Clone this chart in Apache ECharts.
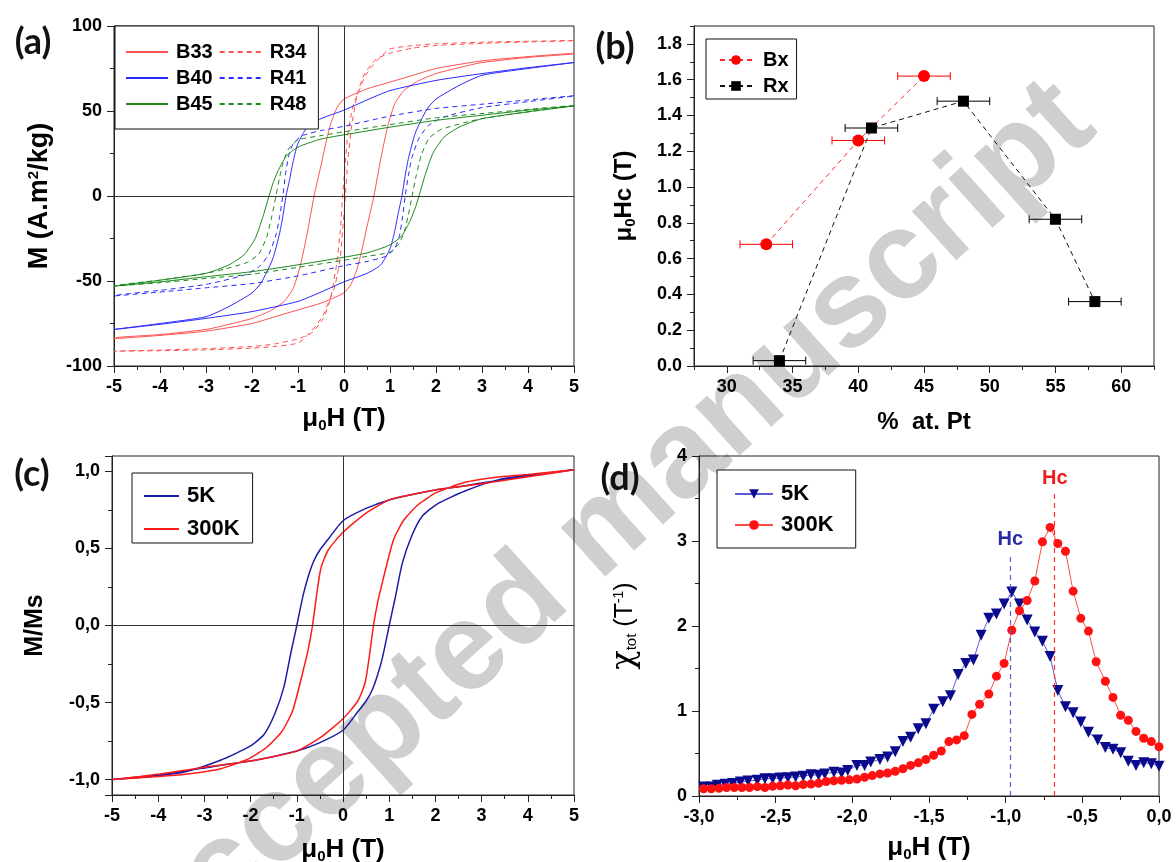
<!DOCTYPE html>
<html><head><meta charset="utf-8">
<script src="https://cdn.jsdelivr.net/npm/echarts@6/dist/echarts.min.js"></script>
<style>html,body{margin:0;padding:0;background:#fff}#c{width:1176px;height:862px}</style>
</head><body><div id="c"></div>
<script>
// ---------- Panel (a): hysteresis loops, M (A.m2/kg) vs mu0H (T) ----------
const b33Loop = [[5,84],[4,82],[3,79.5],[2,75],[1.5,71],[1,67],[0.5,63],[0,57],[-0.15,52],[-0.27,44],[-0.37,34],[-0.5,18],[-0.65,0],[-0.8,-22],[-0.95,-41],[-1.1,-54],[-1.3,-62],[-1.6,-67.5],[-2,-72],[-2.5,-75.5],[-3,-78.5],[-4,-81.5],[-5,-83.5],
  [-5,-84],[-4,-82],[-3,-79.5],[-2,-75],[-1.5,-71],[-1,-67],[-0.5,-63],[0,-57],[0.15,-52],[0.27,-44],[0.37,-34],[0.5,-18],[0.65,0],[0.8,22],[0.95,41],[1.1,54],[1.3,62],[1.6,67.5],[2,72],[2.5,75.5],[3,78.5],[4,81.5],[5,83.5]];
const r34Loop = [[5,91.5],[4,91],[3,90.5],[2,89.5],[1.5,88.5],[1,86.5],[0.8,82],[0.6,76],[0.45,70],[0.33,62],[0.22,55],[0.15,47],[0.08,36],[0.03,20],[-0.03,0],[-0.08,-20],[-0.16,-40],[-0.29,-60],[-0.45,-72],[-0.7,-80.5],[-1,-84],[-1.5,-87],[-2,-88.5],[-3,-89.8],[-4,-90.6],[-5,-91.3],
  [-5,-91.5],[-4,-91],[-3,-90.5],[-2,-89.5],[-1.5,-88.5],[-1,-86.5],[-0.8,-82],[-0.6,-76],[-0.45,-70],[-0.33,-62],[-0.22,-55],[-0.15,-47],[-0.08,-36],[-0.03,-20],[0.03,0],[0.08,20],[0.16,40],[0.29,60],[0.45,72],[0.7,80.5],[1,84],[1.5,87],[2,88.5],[3,89.8],[4,90.6],[5,91.3]];
const b40Loop = [[5,78.5],[4,75.5],[3,72],[2,68],[1,62],[0.5,56.5],[0,50.5],[-0.5,45.5],[-0.8,40.5],[-1,31],[-1.1,21],[-1.18,10],[-1.26,0],[-1.33,-12],[-1.4,-22],[-1.55,-37],[-1.8,-51],[-2,-57],[-2.5,-65],[-3,-71],[-4,-75],[-5,-78.5],
  [-5,-78.5],[-4,-75.5],[-3,-72],[-2,-68],[-1,-62],[-0.5,-56.5],[0,-50.5],[0.5,-45.5],[0.8,-40.5],[1,-31],[1.1,-21],[1.18,-10],[1.26,0],[1.33,12],[1.4,22],[1.55,37],[1.8,51],[2,57],[2.5,65],[3,71],[4,75],[5,78.5]];
const r41Loop = [[5,59],[4,56.5],[3,54],[2,51.5],[1,47],[0,41],[-0.5,38.5],[-0.9,35.5],[-1.1,31],[-1.2,24],[-1.27,13],[-1.33,0],[-1.4,-12],[-1.47,-22],[-1.63,-34],[-1.84,-41.5],[-2.17,-46.5],[-3,-52],[-4,-55.5],[-5,-58.8],
  [-5,-59],[-4,-56.5],[-3,-54],[-2,-51.5],[-1,-47],[0,-41],[0.5,-38.5],[0.9,-35.5],[1.1,-31],[1.2,-24],[1.27,-13],[1.33,0],[1.4,12],[1.47,22],[1.63,34],[1.84,41.5],[2.17,46.5],[3,52],[4,55.5],[5,58.8]];
const b45Loop = [[5,53],[4,50.5],[3,47.5],[2,44.5],[1,40.5],[0,36],[-0.5,33.5],[-0.94,29.5],[-1.1,27],[-1.27,23],[-1.43,15],[-1.55,7],[-1.63,0],[-1.76,-12],[-1.93,-25],[-2.17,-34.5],[-2.5,-40.5],[-3,-45.5],[-4,-49.5],[-5,-53],
  [-5,-53],[-4,-50.5],[-3,-47.5],[-2,-44.5],[-1,-40.5],[0,-36],[0.5,-33.5],[0.94,-29.5],[1.1,-27],[1.27,-23],[1.43,-15],[1.55,-7],[1.63,0],[1.76,12],[1.93,25],[2.17,34.5],[2.5,40.5],[3,45.5],[4,49.5],[5,53]];
const r48Loop = [[5,53.3],[4,51],[3,48.5],[2,46],[1,42],[0,37.8],[-0.5,35.5],[-1,33],[-1.2,28],[-1.32,20],[-1.4,11],[-1.48,0],[-1.57,-12],[-1.68,-24],[-1.85,-34],[-2.1,-39],[-2.6,-43],[-3,-45.5],[-4,-49.5],[-5,-53],
  [-5,-53.3],[-4,-51],[-3,-48.5],[-2,-46],[-1,-42],[0,-37.8],[0.5,-35.5],[1,-33],[1.2,-28],[1.32,-20],[1.4,-11],[1.48,0],[1.57,12],[1.68,24],[1.85,34],[2.1,39],[2.6,43],[3,45.5],[4,49.5],[5,53]];

// ---------- Panel (b): coercivity vs % at. Pt ----------
const bxX = [33, 40, 45];
const bxY = [0.68, 1.26, 1.62];
const bxErr = [2, 2, 2];
const rxX = [34, 41, 48, 55, 58];
const rxY = [0.03, 1.33, 1.48, 0.82, 0.36];
const rxErr = [2, 2, 2, 2, 2];

// ---------- Panel (c): normalized loops M/Ms ----------
const c5KLoop = [[5,1.01],[4,0.97],[3,0.925],[2.5,0.9],[2,0.88],[1.5,0.85],[1,0.815],[0.5,0.76],[0,0.68],[-0.32,0.56],[-0.5,0.49],[-0.63,0.42],[-0.75,0.32],[-0.86,0.2],[-1.0,0],[-1.13,-0.18],[-1.28,-0.4],[-1.48,-0.576],[-1.71,-0.707],[-2.02,-0.785],[-2.64,-0.873],[-3.41,-0.95],[-4,-0.975],[-5,-1.0],
  [-5,-1.0],[-4,-0.97],[-3,-0.925],[-2.5,-0.9],[-2,-0.88],[-1.5,-0.85],[-1,-0.815],[-0.5,-0.76],[0,-0.68],[0.32,-0.56],[0.5,-0.49],[0.63,-0.42],[0.75,-0.32],[0.86,-0.2],[1.0,0],[1.13,0.18],[1.28,0.4],[1.48,0.576],[1.71,0.707],[2.02,0.785],[2.64,0.873],[3.41,0.95],[4,0.975],[5,1.01]];
const c300KLoop = [[5,1.01],[4,0.965],[3,0.92],[2.5,0.9],[2,0.88],[1.5,0.85],[1,0.815],[0.5,0.73],[0,0.605],[-0.32,0.49],[-0.48,0.37],[-0.57,0.2],[-0.66,0],[-0.75,-0.15],[-0.86,-0.29],[-1.09,-0.554],[-1.32,-0.686],[-1.63,-0.785],[-2.02,-0.862],[-2.64,-0.929],[-3.41,-0.965],[-4,-0.98],[-5,-1.0],
  [-5,-1.0],[-4,-0.965],[-3,-0.92],[-2.5,-0.9],[-2,-0.88],[-1.5,-0.85],[-1,-0.815],[-0.5,-0.73],[0,-0.605],[0.32,-0.49],[0.48,-0.37],[0.57,-0.2],[0.66,0],[0.75,0.15],[0.86,0.29],[1.09,0.554],[1.32,0.686],[1.63,0.785],[2.02,0.862],[2.64,0.929],[3.41,0.965],[4,0.98],[5,1.01]];

// ---------- Panel (d): susceptibility chi_tot (T^-1) ----------
const d5KH = [-2.97,-2.92,-2.88,-2.83,-2.78,-2.73,-2.68,-2.62,-2.57,-2.52,-2.47,-2.42,-2.37,-2.32,-2.27,-2.22,-2.18,-2.12,-2.07,-2.03,-1.97,-1.92,-1.88,-1.82,-1.77,-1.72,-1.67,-1.62,-1.57,-1.52,-1.47,-1.41,-1.36,-1.31,-1.26,-1.21,-1.16,-1.11,-1.06,-1.01,-0.96,-0.91,-0.86,-0.81,-0.76,-0.71,-0.66,-0.61,-0.56,-0.51,-0.46,-0.40,-0.35,-0.30,-0.25,-0.20,-0.15,-0.10,-0.05,0.00];
const d5KChi = [0.106,0.106,0.126,0.138,0.146,0.165,0.177,0.185,0.204,0.204,0.212,0.216,0.224,0.232,0.25,0.243,0.26,0.28,0.27,0.30,0.36,0.36,0.40,0.43,0.46,0.52,0.64,0.69,0.79,0.85,1.02,1.11,1.18,1.43,1.56,1.60,1.89,2.09,2.14,2.26,2.40,2.26,2.07,1.93,1.82,1.64,1.24,1.05,0.98,0.87,0.75,0.66,0.57,0.55,0.51,0.41,0.36,0.39,0.38,0.35];
const d300KH = [-2.97,-2.92,-2.87,-2.82,-2.77,-2.72,-2.67,-2.62,-2.57,-2.52,-2.47,-2.42,-2.37,-2.32,-2.27,-2.22,-2.17,-2.12,-2.07,-2.02,-1.97,-1.92,-1.87,-1.82,-1.77,-1.72,-1.67,-1.62,-1.57,-1.52,-1.47,-1.42,-1.37,-1.32,-1.27,-1.22,-1.17,-1.11,-1.06,-1.01,-0.96,-0.91,-0.86,-0.81,-0.76,-0.71,-0.66,-0.61,-0.56,-0.51,-0.46,-0.41,-0.35,-0.30,-0.25,-0.20,-0.15,-0.10,-0.05,0.00];
const d300KChi = [0.085,0.085,0.09,0.10,0.10,0.10,0.10,0.11,0.10,0.115,0.12,0.13,0.12,0.135,0.14,0.15,0.17,0.18,0.185,0.19,0.20,0.22,0.24,0.26,0.27,0.29,0.32,0.36,0.39,0.43,0.48,0.53,0.64,0.66,0.71,0.96,1.08,1.20,1.41,1.56,1.95,2.18,2.30,2.53,2.99,3.16,2.97,2.88,2.41,2.09,1.94,1.58,1.35,1.16,0.95,0.89,0.76,0.68,0.64,0.58];
const hc5K = [-0.97, 2.85];     // H position of the Hc marker, top of its dashed line
const hc300K = [-0.68, 3.6];

// ---------- helpers ----------
const FONT = 'Liberation Sans';
const AX = '#222';
const zip = (xs, ys) => xs.map((x, i) => [x, ys[i]]);
const zip3 = (xs, ys, es) => xs.map((x, i) => [x, ys[i], es[i]]);
const comma = v => v.toFixed(1).replace('.', ',');

function axis(o) {
  const base = {
    type: 'value', nameLocation: 'middle', nameMoveOverlap: false,
    axisLine: {show: true, onZero: false, lineStyle: {color: AX, width: 1}},
    axisTick: {show: true, inside: false, length: 7, lineStyle: {color: AX, width: 1}},
    minorTick: {show: true, splitNumber: 2, length: 4, lineStyle: {color: AX, width: 1}},
    splitLine: {show: false}, minorSplitLine: {show: false},
    axisLabel: {margin: 12, fontFamily: FONT, fontWeight: 'bold', fontSize: 18, color: '#000'},
    nameTextStyle: {fontFamily: FONT, fontWeight: 'bold', fontSize: 26, color: '#000',
      rich: {s: {fontSize: 15, fontWeight: 'bold', padding: [13, 0, 0, 0]},
             p: {fontSize: 15, fontWeight: 'bold', padding: [0, 0, 13, 0]}}}
  };
  const r = Object.assign({}, base, o);
  if (o.axisLabel) r.axisLabel = Object.assign({}, base.axisLabel, o.axisLabel);
  if (o.axisTick) r.axisTick = Object.assign({}, base.axisTick, o.axisTick);
  if (o.minorTick) r.minorTick = Object.assign({}, base.minorTick, o.minorTick);
  if (o.axisLine) r.axisLine = Object.assign({}, base.axisLine, o.axisLine);
  if (o.nameTextStyle) r.nameTextStyle = Object.assign({}, base.nameTextStyle, o.nameTextStyle);
  return r;
}
function gridBox(left, top, width, height) {
  return {left, top, width, height, show: true, borderColor: AX, borderWidth: 1,
          backgroundColor: 'transparent', containLabel: false, outerBoundsMode: 'none'};
}
function errRender(params, api) {
  const x = api.value(0), y = api.value(1), e = api.value(2);
  const p1 = api.coord([x - e, y]), p2 = api.coord([x + e, y]);
  const c = api.visual('color'), h = 4;
  const st = {stroke: c, lineWidth: 1};
  return {type: 'group', children: [
    {type: 'line', shape: {x1: p1[0], y1: p1[1], x2: p2[0], y2: p2[1]}, style: st},
    {type: 'line', shape: {x1: p1[0], y1: p1[1] - h, x2: p1[0], y2: p1[1] + h}, style: st},
    {type: 'line', shape: {x1: p2[0], y1: p2[1] - h, x2: p2[0], y2: p2[1] + h}, style: st}
  ]};
}
const zeroLines = {silent: true, symbol: ['none', 'none'], label: {show: false},
  lineStyle: {color: '#333', width: 1, type: 'solid'}, data: [{xAxis: 0}, {yAxis: 0}]};
function loopSeries(name, data, color, dashed, xi, extra) {
  return Object.assign({name, type: 'line', xAxisIndex: xi, yAxisIndex: xi, data,
    symbol: 'none', showSymbol: false, smooth: 0.2, clip: true,
    lineStyle: {color, width: 1, type: dashed ? [5, 4] : 'solid'}, itemStyle: {color}}, extra || {});
}
function legendBox(o) {
  return Object.assign({
    borderColor: '#111', borderWidth: 1, borderRadius: 0, backgroundColor: '#fff',
    selectedMode: false, inactiveColor: '#000',
    textStyle: {fontFamily: FONT, fontWeight: 'bold', fontSize: 20, color: '#000', lineHeight: 20, padding: [0, 0, 0, 3]}
  }, o);
}
const letter = (t, x, y) => ({type: 'text', x, y, z: 10, silent: true,
  style: {text: t, fill: '#111', font: 'bold 36px Lato', textAlign: 'center', textVerticalAlign: 'middle', align: 'center', verticalAlign: 'middle'}});

const option = {
  animation: false,
  backgroundColor: '#fff',
  grid: [
    gridBox(114, 26, 460, 340),
    gridBox(694, 26, 460, 340),
    gridBox(112, 456, 462, 339),
    gridBox(699, 456, 460, 340)
  ],
  xAxis: [
    axis({gridIndex: 0, min: -5, max: 5, interval: 1, name: 'μ{s|0}H (T)', nameGap: 39}),
    axis({gridIndex: 1, min: 27.5, max: 62.5, splitNumber: 7, minorTick: {show: false},
          axisLabel: {showMinLabel: false, showMaxLabel: false}, name: '%  at. Pt', nameGap: 44,
          nameTextStyle: {fontSize: 24}}),
    axis({gridIndex: 1, min: 27.5, max: 62.5, interval: 2.5, position: 'bottom', axisLine: {show: false},
          axisLabel: {show: false}, axisTick: {length: 4}, minorTick: {show: false}}),
    axis({gridIndex: 2, min: -5, max: 5, interval: 1, name: 'μ{s|0}H (T)', nameGap: 41}),
    axis({gridIndex: 3, min: -3, max: 0, interval: 0.5, axisLabel: {formatter: comma}, name: 'μ{s|0}H (T)', nameGap: 38})
  ],
  yAxis: [
    axis({gridIndex: 0, min: -100, max: 100, interval: 50, name: 'M (A.m{p|2}/kg)', nameRotate: 90, nameGap: 60,
          nameTextStyle: {fontSize: 27}}),
    axis({gridIndex: 1, min: 0, max: 1.9, interval: 0.2, minorTick: {show: false},
          axisLabel: {showMaxLabel: false, formatter: v => v.toFixed(1)}, name: 'μ{s|0}Hc (T)', nameRotate: 90, nameGap: 56,
          nameTextStyle: {fontSize: 24}}),
    axis({gridIndex: 1, min: 0, max: 1.9, interval: 0.1, position: 'left', axisLine: {show: false},
          axisLabel: {show: false}, axisTick: {length: 4}, minorTick: {show: false}}),
    axis({gridIndex: 2, min: -1.1, max: 1.1, splitNumber: 4,
          axisLabel: {showMinLabel: false, showMaxLabel: false, formatter: comma}, name: 'M/Ms', nameRotate: 90, nameGap: 64,
          nameTextStyle: {fontSize: 25}}),
    axis({gridIndex: 3, min: 0, max: 4, interval: 1, name: '{c|χ}{t|tot} (T{u|-1})', nameRotate: 90, nameGap: 58,
          nameTextStyle: {fontWeight: 'normal', fontSize: 25, fontFamily: FONT,
            rich: {c: {fontSize: 32, fontFamily: 'DejaVu Serif'}, t: {fontSize: 15, fontFamily: FONT, padding: [13, 0, 0, 0]},
                   u: {fontSize: 14, fontFamily: FONT, padding: [0, 0, 12, 0]}}}})
  ],
  legend: [
    legendBox({data: ['B33', 'R34', 'B40', 'R41', 'B45', 'R48'], orient: 'horizontal', left: 115, top: 26, width: 206,
      itemWidth: 42, itemHeight: 10, itemGap: 6, padding: [16, 12, 15, 10], itemStyle: {opacity: 0}}),
    legendBox({data: ['Bx', 'Rx'], orient: 'vertical', left: 706, top: 39, itemWidth: 32, itemHeight: 12, itemGap: 6,
      padding: [11, 8, 3, 13], textStyle: {fontFamily: FONT, fontWeight: 'bold', fontSize: 20, color: '#000', lineHeight: 16, padding: [0, 0, 0, 6]}}),
    legendBox({data: ['5K', '300K'], orient: 'vertical', left: 132, top: 473, itemWidth: 35, itemHeight: 10, itemGap: 11,
      padding: [12, 13, 3, 11], itemStyle: {opacity: 0},
      textStyle: {fontFamily: FONT, fontWeight: 'bold', fontSize: 22, color: '#000', lineHeight: 20, padding: [0, 0, 0, 3]}}),
    legendBox({data: ['5K ', '300K '], orient: 'vertical', left: 717, top: 470, itemWidth: 38, itemHeight: 12, itemGap: 9,
      padding: [13, 16, 12, 17],
      textStyle: {fontFamily: FONT, fontWeight: 'bold', fontSize: 22, color: '#000', lineHeight: 20, padding: [0, 0, 0, 3]}})
  ],
  graphic: [
    {type: 'text', silent: true, z: -10, x: 604, y: 531, rotation: 42 * Math.PI / 180,
     style: {text: 'Accepted manuscript', fill: '#cfcfcf', font: 'bold 125px "Liberation Sans"',
             textAlign: 'center', textVerticalAlign: 'middle', align: 'center', verticalAlign: 'middle'}},
    letter('(a)', 33, 42), letter('(b)', 615, 47), letter('(c)', 32, 474), letter('(d)', 620, 478)
  ],
  series: [
    loopSeries('B33', b33Loop, '#ff5050', false, 0, {markLine: zeroLines}),
    loopSeries('R34', r34Loop, '#ff5050', true, 0),
    loopSeries('B40', b40Loop, '#2a2aff', false, 0),
    loopSeries('R41', r41Loop, '#2a2aff', true, 0),
    loopSeries('B45', b45Loop, '#1a8a1a', false, 0),
    loopSeries('R48', r48Loop, '#1a8a1a', true, 0),
    {name: 'Bx err', type: 'custom', xAxisIndex: 1, yAxisIndex: 1, renderItem: errRender, data: zip3(bxX, bxY, bxErr),
     itemStyle: {color: '#ff0000'}, encode: {x: 0, y: 1}, z: 1, silent: true},
    {name: 'Rx err', type: 'custom', xAxisIndex: 1, yAxisIndex: 1, renderItem: errRender, data: zip3(rxX, rxY, rxErr),
     itemStyle: {color: '#000'}, encode: {x: 0, y: 1}, z: 1, silent: true},
    {name: 'Bx', type: 'line', xAxisIndex: 1, yAxisIndex: 1, data: zip(bxX, bxY), symbol: 'circle', symbolSize: 12,
     itemStyle: {color: '#ff0000'}, lineStyle: {color: '#ff2a2a', width: 1, type: [5, 4]}, z: 3},
    {name: 'Rx', type: 'line', xAxisIndex: 1, yAxisIndex: 1, data: zip(rxX, rxY), symbol: 'rect', symbolSize: 11,
     itemStyle: {color: '#000'}, lineStyle: {color: '#111', width: 1, type: [5, 4]}, z: 3},
    loopSeries('5K', c5KLoop, '#1c1ca8', false, 3, {lineStyle: {color: '#1c1ca8', width: 1.5}, markLine: zeroLines}),
    loopSeries('300K', c300KLoop, '#ff1a1a', false, 3, {lineStyle: {color: '#ff1a1a', width: 1.5}}),
    {name: '5K ', type: 'line', xAxisIndex: 4, yAxisIndex: 4, data: zip(d5KH, d5KChi), symbol: 'triangle', symbolRotate: 180,
     symbolSize: 11, itemStyle: {color: '#0a0a8c'}, lineStyle: {color: '#5a5ad8', width: 1},
     markLine: {silent: true, symbol: ['none', 'none'], lineStyle: {color: '#5a5ae0', width: 1.2, type: [5, 4]},
       label: {show: true, position: 'end', formatter: 'Hc', color: '#2a2aa8', fontFamily: FONT, fontWeight: 'bold', fontSize: 20, distance: 4},
       data: [[{coord: [hc5K[0], 0]}, {coord: [hc5K[0], hc5K[1]]}]]}},
    {name: '300K ', type: 'line', xAxisIndex: 4, yAxisIndex: 4, data: zip(d300KH, d300KChi), symbol: 'circle',
     symbolSize: 9, itemStyle: {color: '#ff1111'}, lineStyle: {color: '#ff4a4a', width: 1},
     markLine: {silent: true, symbol: ['none', 'none'], lineStyle: {color: '#ff3030', width: 1.2, type: [5, 4]},
       label: {show: true, position: 'end', formatter: 'Hc', color: '#ee1c1c', fontFamily: FONT, fontWeight: 'bold', fontSize: 20, distance: 2},
       data: [[{coord: [hc300K[0], 0]}, {coord: [hc300K[0], hc300K[1]]}]]}}
  ]
};
const chart = echarts.init(document.getElementById('c'), null, {renderer: 'canvas'});
chart.setOption(option);
</script>
</body></html>
